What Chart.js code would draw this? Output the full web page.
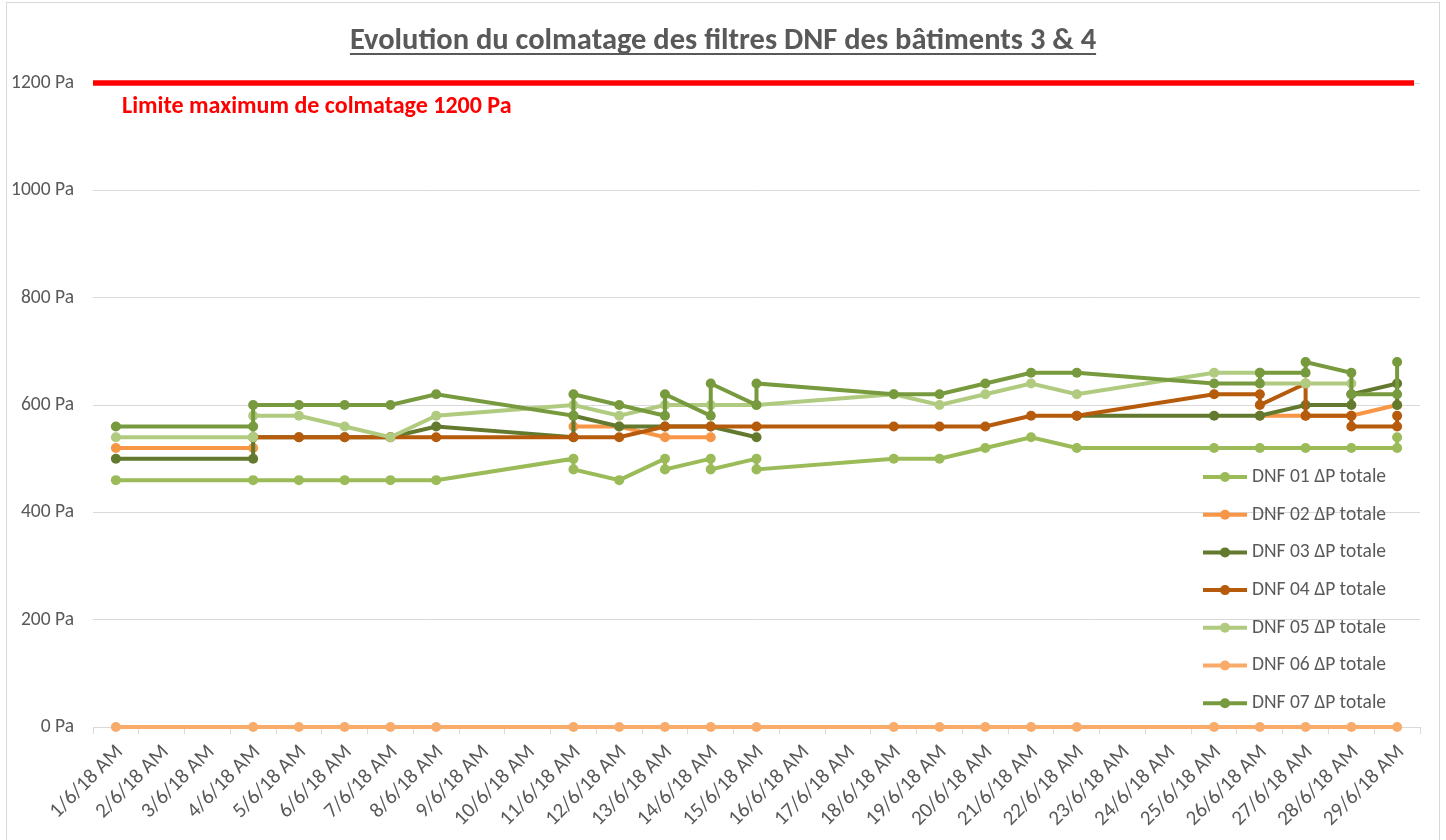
<!DOCTYPE html>
<html>
<head>
<meta charset="utf-8">
<title>Evolution du colmatage des filtres DNF</title>
<script src="https://cdn.jsdelivr.net/npm/chart.js@4.4.1/dist/chart.umd.min.js"></script>
<style>
    html, body { margin: 0; padding: 0; background: #ffffff; }
    #wrap { position: relative; width: 1446px; height: 840px; }
</style>
</head>
<body>
<div id="wrap"><canvas id="colmatageChart" width="1446" height="840"></canvas></div>
<script>
// jours du mois de juin 2018 affichés sur l'axe
var dayLabels = [];
for (var d = 1; d <= 29; d++) {
    dayLabels.push(d + "/6/18 AM");
}

// mesures (Pa) par filtre : jour de la mesure et valeur (null = pas de mesure)
var dnf01Days   = [1, 4, 5, 6, 7, 8, 11, 11, 12, 13, 13, 14, 14, 15, 15, 18, 19, 20, 21, 22, 25, 26, 27, 28, 29, 29];
var dnf01Values = [460, 460, 460, 460, 460, 460, 500, 480, 460, 500, 480, 500, 480, 500, 480, 500, 500, 520, 540, 520, 520, 520, 520, 520, 520, 540];

var dnf02Days   = [1, 4, 5, 11, 12, 13, 14, 15, 26, 27, 28, 29];
var dnf02Values = [520, 520, null, 560, 560, 540, 540, null, 580, 580, 580, 600];

var dnf03Days   = [1, 4, 4, 5, 6, 7, 8, 11, 11, 12, 13, 14, 15, 18, 22, 25, 26, 27, 28, 28, 29, 29];
var dnf03Values = [500, 500, 540, 540, 540, 540, 560, 540, 580, 560, 560, 560, 540, null, 580, 580, 580, 600, 600, 620, 640, 600];

var dnf04Days   = [4, 5, 6, 7, 8, 11, 12, 13, 14, 15, 18, 19, 20, 21, 22, 25, 26, 26, 27, 27, 28, 28, 29, 29];
var dnf04Values = [540, 540, 540, 540, 540, 540, 540, 560, 560, 560, 560, 560, 560, 580, 580, 620, 620, 600, 640, 580, 580, 560, 560, 580];

var dnf05Days   = [1, 4, 4, 5, 6, 7, 8, 11, 12, 13, 14, 15, 18, 19, 20, 21, 22, 25, 26, 26, 27, 28];
var dnf05Values = [540, 540, 580, 580, 560, 540, 580, 600, 580, 600, 600, 600, 620, 600, 620, 640, 620, 660, 660, 640, 640, 640];

var dnf06Days   = [1, 4, 5, 6, 7, 8, 11, 12, 13, 14, 15, 18, 19, 20, 21, 22, 25, 26, 27, 28, 29];
var dnf06Values = [0, 0, 0, 0, 0, 0, 0, 0, 0, 0, 0, 0, 0, 0, 0, 0, 0, 0, 0, 0, 0];

var dnf07Days   = [1, 4, 4, 5, 6, 7, 8, 11, 11, 12, 13, 13, 14, 14, 15, 15, 18, 19, 20, 21, 22, 25, 26, 26, 27, 27, 28, 28, 29, 29];
var dnf07Values = [560, 560, 600, 600, 600, 600, 620, 580, 620, 600, 580, 620, 580, 640, 600, 640, 620, 620, 640, 660, 660, 640, 640, 660, 660, 680, 660, 620, 620, 680];

var seriesNames = ["DNF 01 \u0394P totale", "DNF 02 \u0394P totale", "DNF 03 \u0394P totale", "DNF 04 \u0394P totale",
                   "DNF 05 \u0394P totale", "DNF 06 \u0394P totale", "DNF 07 \u0394P totale"];
var seriesColors = ["#9BBB59", "#F79646", "#62792E", "#B65A0B", "#B0CB80", "#F9AB6A", "#789A3E"];

// limite de colmatage
var limitValue = 1200;
var limitDays = [0.5, 29.37];
var limitText = "Limite maximum de colmatage 1200 Pa";

var chartTitle = "Evolution du colmatage des filtres DNF des b\u00e2timents 3 & 4";
var FONT = "Calibri, Carlito, Lato, sans-serif";
var TEXT_GREY = "#595959";

function toPoints(days, values) {
    var pts = [];
    for (var i = 0; i < days.length; i++) {
        pts.push({ x: dayLabels[days[i] - 1], y: values[i] });
    }
    return pts;
}

var allDays = [dnf01Days, dnf02Days, dnf03Days, dnf04Days, dnf05Days, dnf06Days, dnf07Days];
var allValues = [dnf01Values, dnf02Values, dnf03Values, dnf04Values, dnf05Values, dnf06Values, dnf07Values];

var datasets = [];
for (var s = 0; s < seriesNames.length; s++) {
    datasets.push({
        label: seriesNames[s],
        data: toPoints(allDays[s], allValues[s]),
        borderColor: seriesColors[s],
        backgroundColor: seriesColors[s],
        pointBackgroundColor: seriesColors[s],
        pointBorderColor: seriesColors[s],
        borderWidth: 4,
        pointRadius: 5,
        pointBorderWidth: 0,
        tension: 0,
        spanGaps: false,
        clip: false,
        order: 10 - s   // comme Excel : la dernière série est dessinée au-dessus
    });
}

datasets.push({
    label: "Limite",
    data: [{ x: limitDays[0], y: limitValue }, { x: limitDays[1], y: limitValue }],
    xAxisID: "xDays",
    borderColor: "#FF0000",
    borderWidth: 5.5,
    pointRadius: 0,
    clip: false,
    order: 0
});

// titre souligné, texte de limite, légende et cadre dessinés à la main
var decorPlugin = {
    id: "decor",
    beforeDraw: function(chart) {
        var ctx = chart.ctx;
        ctx.save();
        ctx.strokeStyle = "#D9D9D9";
        ctx.lineWidth = 1;
        ctx.strokeRect(6.5, 2.5, 1433, 900);
        ctx.restore();
    },
    afterDraw: function(chart) {
        var ctx = chart.ctx;
        var area = chart.chartArea;
        ctx.save();

        // titre
        ctx.font = "bold 30.5px " + FONT;
        ctx.fillStyle = TEXT_GREY;
        ctx.textAlign = "center";
        ctx.textBaseline = "alphabetic";
        var cx = 723;
        ctx.fillText(chartTitle, cx, 49);
        var w = ctx.measureText(chartTitle).width;
        ctx.fillRect(cx - w / 2, 53, w, 2);

        // texte de la limite
        ctx.font = "bold 24px " + FONT;
        ctx.fillStyle = "#FF0000";
        ctx.textAlign = "left";
        ctx.textBaseline = "middle";
        ctx.fillText(limitText, area.left + 29, 107);

        // légende
        ctx.font = "19.5px " + FONT;
        ctx.textBaseline = "middle";
        for (var i = 0; i < seriesNames.length; i++) {
            var y = 477 + i * 37.7;
            ctx.strokeStyle = seriesColors[i];
            ctx.lineWidth = 4;
            ctx.beginPath();
            ctx.moveTo(1203, y);
            ctx.lineTo(1247, y);
            ctx.stroke();
            ctx.fillStyle = seriesColors[i];
            ctx.beginPath();
            ctx.arc(1225, y, 5, 0, Math.PI * 2);
            ctx.fill();
            ctx.fillStyle = TEXT_GREY;
            ctx.fillText(seriesNames[i], 1252, y);
        }
        ctx.restore();
    }
};

var chart = new Chart(document.getElementById("colmatageChart"), {
    type: "line",
    data: {
        labels: dayLabels,
        datasets: datasets
    },
    options: {
        responsive: false,
        animation: false,
        events: [],
        layout: { padding: { top: 83, right: 26, bottom: 0, left: 0 } },
        plugins: {
            legend: { display: false },
            title: { display: false },
            tooltip: { enabled: false }
        },
        scales: {
            x: {
                type: "category",
                offset: true,
                grid: {
                    offset: true,
                    drawOnChartArea: false,
                    color: "#D9D9D9",
                    tickLength: 7
                },
                border: { color: "#D9D9D9" },
                ticks: {
                    autoSkip: false,
                    maxRotation: 45,
                    minRotation: 45,
                    padding: 6,
                    labelOffset: 4,
                    color: TEXT_GREY,
                    font: { family: FONT, size: 21 }
                },
                afterFit: function(scale) { scale.height = 113; }
            },
            xDays: {
                type: "linear",
                display: false,
                min: 0.5,
                max: 29.5
            },
            y: {
                min: 0,
                max: 1200,
                grid: { color: "#D9D9D9", drawTicks: false },
                border: { display: false },
                ticks: {
                    stepSize: 200,
                    padding: 19,
                    color: TEXT_GREY,
                    font: { family: FONT, size: 19.5 },
                    callback: function(v) { return v + " Pa"; }
                },
                afterFit: function(scale) { scale.width = 93; }
            }
        }
    },
    plugins: [decorPlugin]
});
</script>
</body>
</html>
